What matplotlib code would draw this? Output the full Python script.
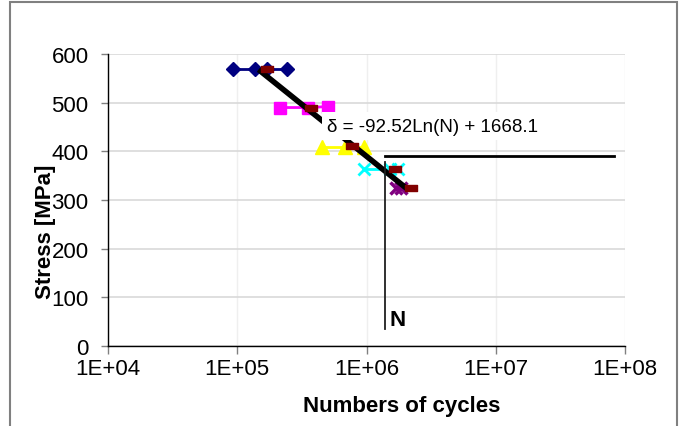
import matplotlib
matplotlib.use("Agg")
import matplotlib.pyplot as plt
import numpy as np
from matplotlib.patches import Rectangle
from matplotlib.path import Path

plt.rcParams['font.family'] = ['Liberation Sans', 'DejaVu Sans']

# ---- data ----
navy_x = [9.3e4, 1.36e5, 1.71e5, 2.44e5]
navy_y = [570, 570, 570, 570]
mag_x = [2.15e5, 3.55e5, 5.07e5]
mag_y = [490, 490, 492]
yel_x = [4.56e5, 6.87e5, 9.5e5]
yel_y = [408, 408, 408]
cyan_x = [9.5e5, 1.53e6, 1.74e6]
cyan_y = [363, 363, 363]
purp_x = [1.68e6, 1.84e6]
purp_y = [325, 325]
red_x = [1.71e5, 3.75e5, 7.78e5, 1.65e6, 2.19e6]
red_y = [570, 490, 410, 363, 325]

trend_a = -92.52
trend_b = 1668.1
trend_range = [1.46e5, 2.04e6]

x_ticks = [1e4, 1e5, 1e6, 1e7, 1e8]
x_ticklabels = ["1E+04", "1E+05", "1E+06", "1E+07", "1E+08"]
y_ticks = [0, 100, 200, 300, 400, 500, 600]

n_x = 1.4e6
n_top = 390
n_vert = [378, 35]
n_hor_end = 8.2e7

W, H = 682, 427
fig = plt.figure(figsize=(W / 100, H / 100), dpi=100)
ax = fig.add_axes([108 / W, 1 - 347 / H, (625 - 108) / W, (347 - 55) / H])

ax.set_xscale('log')
ax.set_xlim(1e4, 1e8)
ax.set_ylim(0, 600)

ax.set_yticks(y_ticks)
ax.set_xticks(x_ticks)
ax.set_xticklabels(x_ticklabels)
ax.xaxis.set_minor_locator(matplotlib.ticker.NullLocator())
ax.yaxis.grid(True, color='#d9d9d9', lw=1.2, zorder=0)
ax.xaxis.grid(True, color='#efefef', lw=1.0, zorder=0)
ax.set_axisbelow(True)

for s in ['top', 'right']:
    ax.spines[s].set_visible(False)
for s in ['left', 'bottom']:
    ax.spines[s].set_color('black')
    ax.spines[s].set_linewidth(1.0)

ax.tick_params(axis='y', direction='out', length=5, width=1, color='#808080',
               labelsize=16, pad=9)
ax.tick_params(axis='x', direction='out', length=6, width=1, color='#808080',
               labelsize=16, pad=3)

rect_marker = Path([(-1, -0.5), (1, -0.5), (1, 0.5), (-1, 0.5), (-1, -0.5)],
                   [Path.MOVETO, Path.LINETO, Path.LINETO, Path.LINETO, Path.CLOSEPOLY])

ax.plot(navy_x, navy_y, color='#000080', lw=2, marker='D', ms=7, zorder=3)
ax.plot(mag_x, mag_y, color='#FF00FF', lw=2, marker='s', ms=8, zorder=3)
ax.plot(yel_x, yel_y, color='#FFFF00', lw=2, marker='^', ms=10, zorder=3)
ax.plot(cyan_x, cyan_y, color='#00FFFF', lw=2, marker='x', ms=8, mew=2, zorder=3)
ax.plot(purp_x, purp_y, color='#800080', lw=2, marker='x', ms=8, mew=2.5, zorder=3)

tx = np.geomspace(trend_range[0], trend_range[1], 50)
ty = trend_a * np.log(tx) + trend_b
ax.plot(tx, ty, color='black', lw=4, solid_capstyle='butt', zorder=4)

ax.plot(red_x, red_y, ls='none', marker=rect_marker, ms=8, color='#800000',
        mec='#800000', zorder=5)

ax.text(4.99e5, 452, "δ = -92.52Ln(N) + 1668.1", fontsize=13.5, ha='left',
        va='center', zorder=6,
        bbox=dict(facecolor='white', edgecolor='none', pad=4))

# N annotation lines
ax.plot([n_x, n_hor_end], [n_top, n_top], color='black', lw=2, zorder=4)
ax.plot([n_x, n_x], n_vert, color='#202020', lw=1.3, zorder=4)
ax.text(1.5e6, 55, "N", fontsize=16, fontweight='bold', ha='left', va='center')

fig.text(402 / W, 1 - 407 / H, "Numbers of cycles", fontsize=16, fontweight='bold',
         ha='center', va='center')
fig.text(45 / W, 1 - 232 / H, "Stress [MPa]", fontsize=16, fontweight='bold',
         ha='center', va='center', rotation=90)

border = Rectangle((10 / W, -0.2), 667 / W, 0.2 + (H - 3) / H, transform=fig.transFigure,
                   fill=False, edgecolor='#808080', lw=1.5, clip_on=False)
fig.patches.append(border)

fig.savefig("out.png", dpi=100)
